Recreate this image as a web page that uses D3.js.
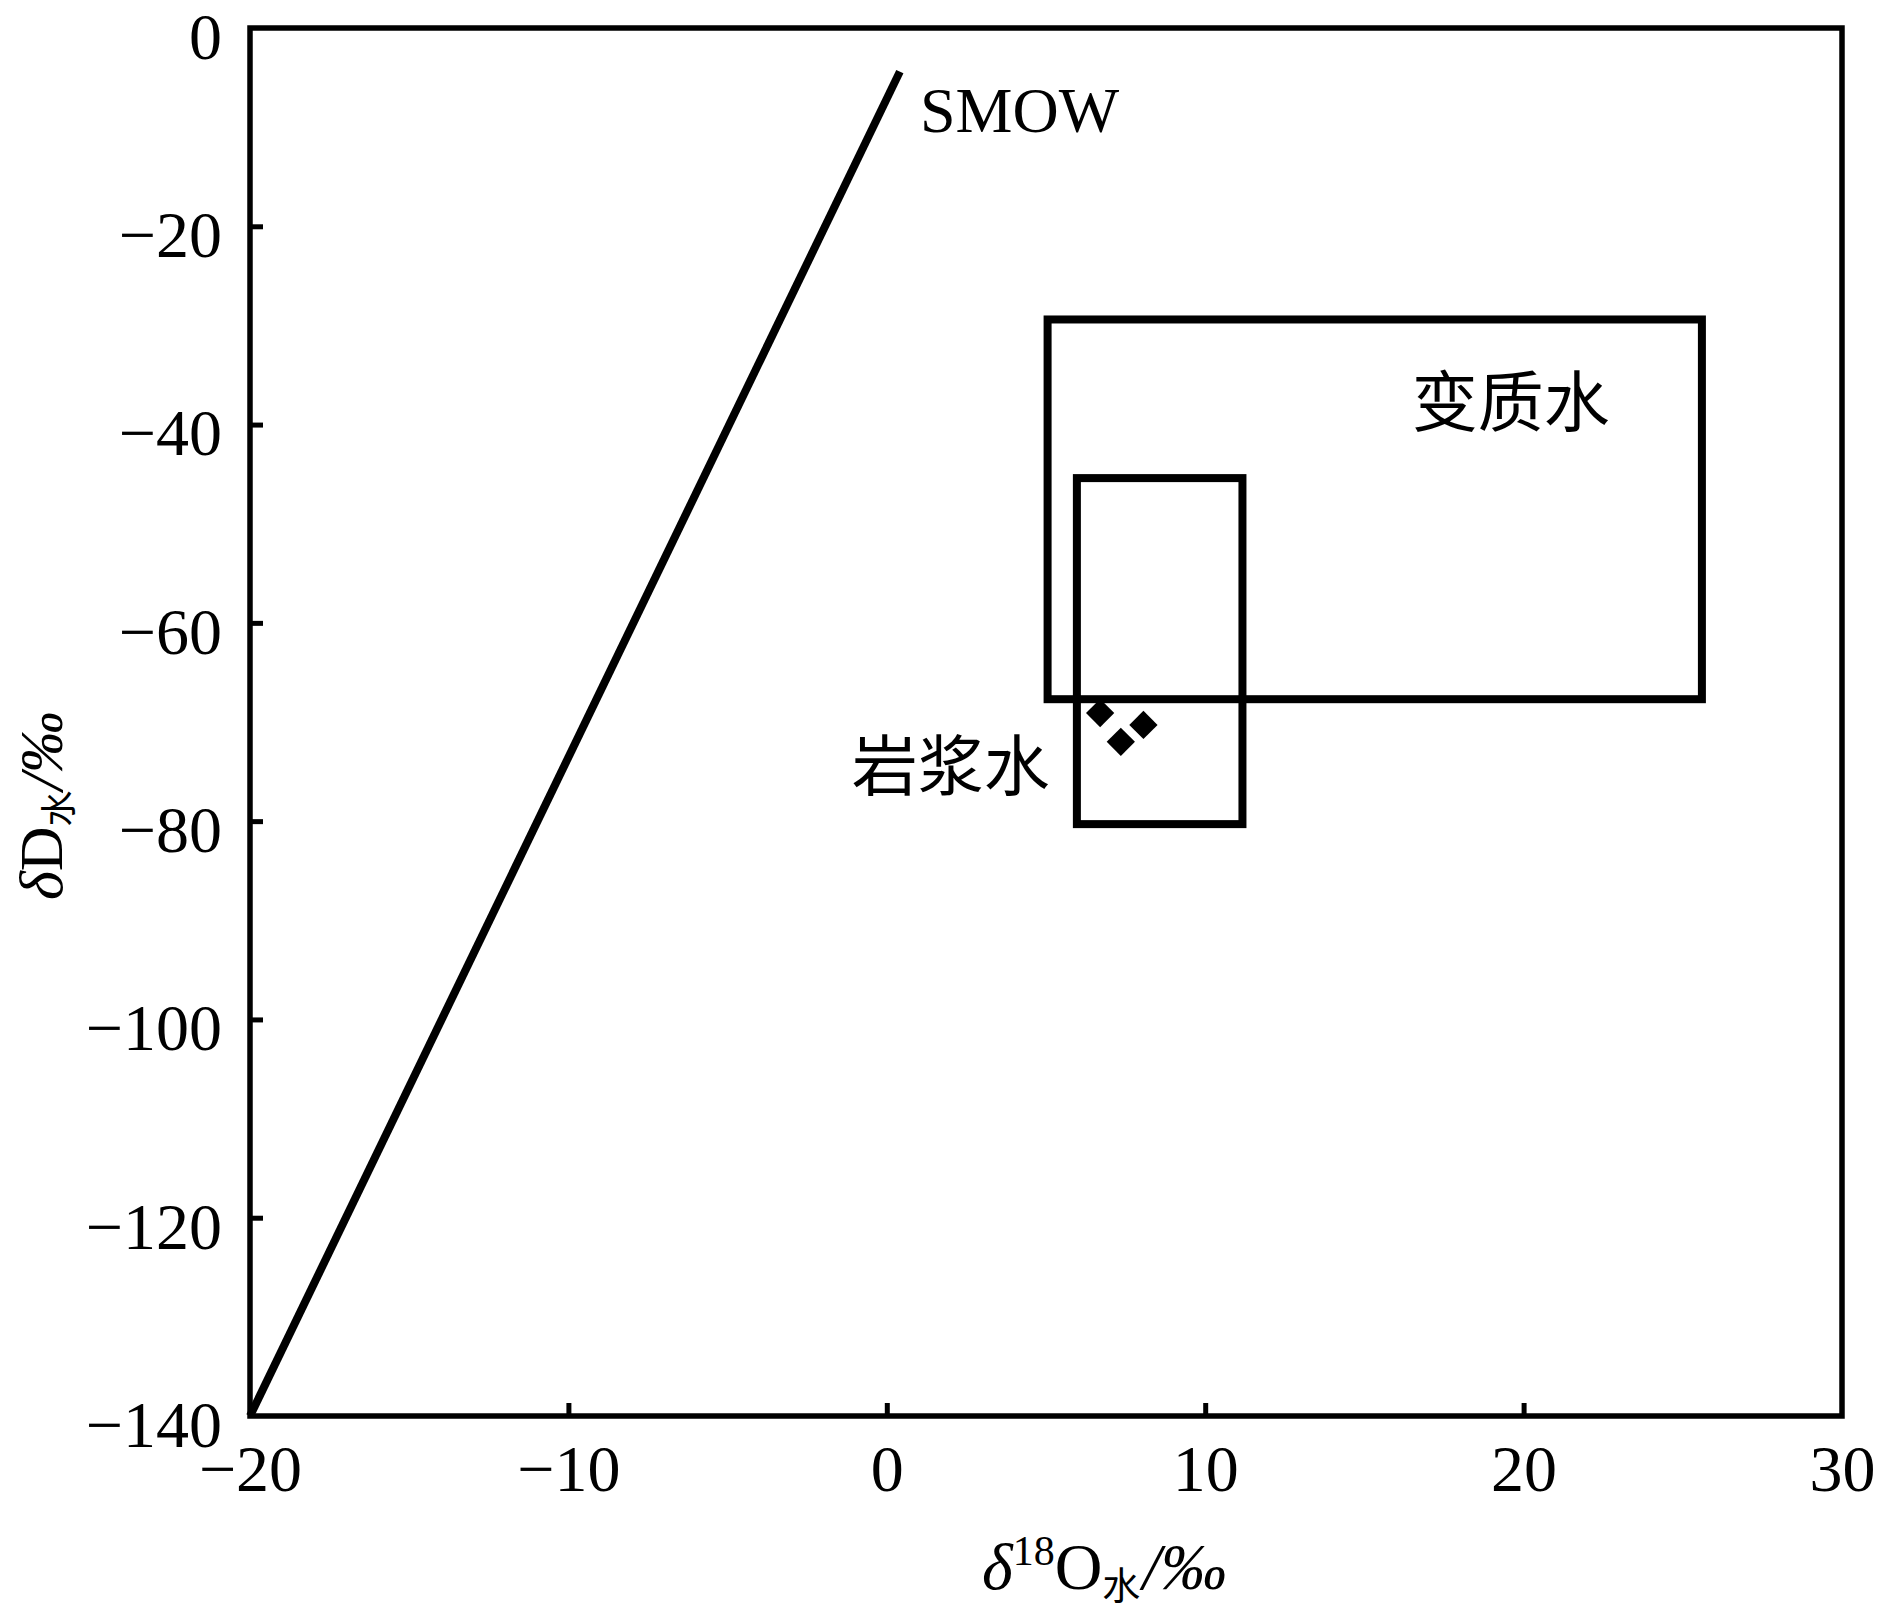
<!DOCTYPE html>
<html>
<head>
<meta charset="utf-8">
<script src="https://cdn.jsdelivr.net/npm/d3@7"></script>
<style>
  body { margin: 0; background: #fff; }
  svg { display: block; }
</style>
</head>
<body>
<div id="graph"></div>
<script>
// data
let xTicks = [-20, -10, 0, 10, 20, 30];
let yTicks = [0, -20, -40, -60, -80, -100, -120, -140];

// SMOW line end points [d18O, dD]
let smowX = [-20, 0.41];
let smowY = [-140, -4.4];

// field boxes: name, x range, y range
let boxNames = ["变质水", "岩浆水"];
let boxX = [[5.05, 25.6], [5.97, 11.17]];
let boxY = [[-29.4, -67.7], [-45.4, -80.3]];

// samples
let sampleX = [6.70, 7.35, 8.06];
let sampleY = [-69.1, -72.0, -70.3];

// annotation anchors (data coords)
let labelText = ["SMOW", "变质水", "岩浆水"];
let labelX = [1.04, 16.49, -1.1];
let labelY = [-10.5, -37.2, -73.9];

let width = 1890, height = 1610;
let serif = "'Liberation Serif', 'Times New Roman', serif";
let cjk = "'Noto Sans CJK SC', sans-serif";

let svg = d3.select("#graph")
    .append("svg")
    .attr("width", width)
    .attr("height", height)
    .style("background", "#fff");

let x = d3.scaleLinear().domain([-20, 30]).range([250, 1842]);
let y = d3.scaleLinear().domain([-140, 0]).range([1416, 28]);

// axes with inward ticks
let xAxis = svg.append("g")
    .attr("transform", `translate(0, ${y(-140)})`)
    .call(d3.axisBottom(x).tickValues(xTicks).tickSizeInner(-13).tickSizeOuter(0).tickPadding(28));

let yAxis = svg.append("g")
    .attr("transform", `translate(${x(-20)}, 0)`)
    .call(d3.axisLeft(y).tickValues(yTicks).tickSizeInner(-13).tickSizeOuter(0).tickPadding(28));

[xAxis, yAxis].forEach(function(g) {
  g.select(".domain").remove();
  g.selectAll(".tick line").attr("stroke", "#000").attr("stroke-width", 5);
  g.selectAll(".tick text")
      .attr("fill", "#000")
      .style("font-family", serif)
      .style("font-size", "66px");
});
yAxis.selectAll(".tick text").attr("dy", "0.46em");
// no tick marks on the corners
xAxis.selectAll(".tick line").filter(function(d) { return d === -20 || d === 30; }).remove();
yAxis.selectAll(".tick line").filter(function(d) { return d === 0 || d === -140; }).remove();

// frame
svg.append("rect")
    .attr("x", x(-20))
    .attr("y", y(0))
    .attr("width", x(30) - x(-20))
    .attr("height", y(-140) - y(0))
    .attr("fill", "none")
    .attr("stroke", "#000")
    .attr("stroke-width", 5.5);

// SMOW line
svg.append("line")
    .attr("x1", x(smowX[0]))
    .attr("y1", y(smowY[0]))
    .attr("x2", x(smowX[1]))
    .attr("y2", y(smowY[1]))
    .attr("stroke", "#000")
    .attr("stroke-width", 8);

// boxes
svg.selectAll("rect.field")
    .data(boxNames)
    .enter()
    .append("rect")
    .attr("class", "field")
    .attr("x", function(d, i) { return x(boxX[i][0]); })
    .attr("y", function(d, i) { return y(boxY[i][0]); })
    .attr("width", function(d, i) { return x(boxX[i][1]) - x(boxX[i][0]); })
    .attr("height", function(d, i) { return y(boxY[i][1]) - y(boxY[i][0]); })
    .attr("fill", "none")
    .attr("stroke", "#000")
    .attr("stroke-width", 8);

// sample points
svg.selectAll("path.sample")
    .data(sampleX)
    .enter()
    .append("path")
    .attr("class", "sample")
    .attr("d", d3.symbol(d3.symbolSquare, 400))
    .attr("transform", function(d, i) { return `translate(${x(d)}, ${y(sampleY[i])}) rotate(45)`; })
    .attr("fill", "#000");

// annotations
svg.selectAll("text.note")
    .data(labelText)
    .enter()
    .append("text")
    .attr("class", "note")
    .attr("x", function(d, i) { return x(labelX[i]); })
    .attr("y", function(d, i) { return y(labelY[i]); })
    .attr("dominant-baseline", function(d, i) { return i === 0 ? "auto" : "central"; })
    .style("font-family", function(d, i) { return i === 0 ? serif : cjk; })
    .style("font-size", function(d, i) { return i === 0 ? "64px" : "66px"; })
    .attr("fill", "#000")
    .text(function(d) { return d; });

// x title: δ18O水/‰
let xt = svg.append("text")
    .attr("x", 982)
    .attr("y", 1589)
    .style("font-family", serif)
    .style("font-size", "66px")
    .attr("fill", "#000");
xt.append("tspan").style("font-style", "italic").text("δ");
xt.append("tspan").style("font-size", "42px").attr("dy", -24).text("18");
xt.append("tspan").attr("dy", 24).text("O");
xt.append("tspan").style("font-family", cjk).style("font-size", "38px").attr("dy", 10).text("水");
xt.append("tspan").attr("dy", -10).style("font-style", "italic").attr("dx", 2).text("/‰");

// y title: δD水/‰
let yt = svg.append("text")
    .attr("transform", "translate(62, 900) rotate(-90)")
    .style("font-family", serif)
    .style("font-size", "62px")
    .attr("fill", "#000");
yt.append("tspan").style("font-style", "italic").text("δ");
yt.append("tspan").text("D");
yt.append("tspan").style("font-family", cjk).style("font-size", "36px").attr("dy", 10).text("水");
yt.append("tspan").attr("dy", -10).style("font-style", "italic").text("/‰");
</script>
</body>
</html>
